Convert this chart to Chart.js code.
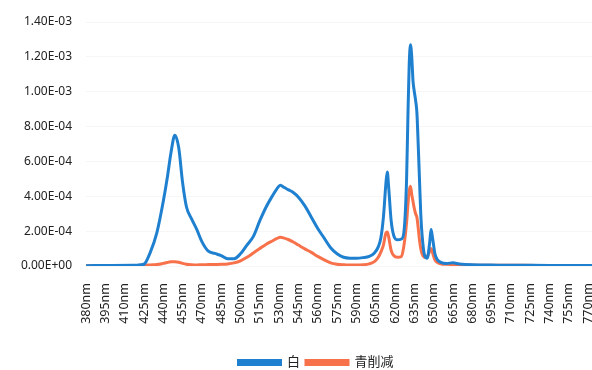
<!DOCTYPE html>
<html>
<head>
<meta charset="utf-8">
<script src="https://cdn.jsdelivr.net/npm/chart.js@4.4.0/dist/chart.umd.min.js"></script>
<style>
  html, body { margin: 0; padding: 0; background: #fff; }
  #wrap { width: 592px; height: 370px; }
</style>
</head>
<body>
<div id="wrap"><canvas id="spectrumChart"></canvas></div>
<script>
// wavelengths (nm)
const wavelengths = [380, 400, 420, 425, 430, 435, 440, 443, 446, 449, 452, 455, 458, 462, 466, 470, 475, 480, 485, 490,
  495, 500, 505, 510, 515, 520, 525, 528, 531, 534, 537, 541, 545, 550, 555, 560, 565, 570, 575, 580,
  585, 590, 595, 600, 604, 607, 609, 611, 613, 614, 615, 617, 619, 622, 625, 627, 629, 630, 631, 632,
  633, 634, 635, 636, 637, 638, 639, 640, 641, 643, 645, 647, 648, 649, 651, 653, 656, 660, 665, 670,
  680, 700, 720, 740, 760, 773];

// series "白"
const whiteValues = [2e-6, 3e-6, 5e-6, 1e-5, 8e-5, 1.9e-4, 3.7e-4, 5.0e-4, 6.5e-4, 7.5e-4, 6.8e-4, 4.8e-4, 3.4e-4, 2.7e-4, 2.1e-4, 1.4e-4, 8.5e-5, 7.2e-5, 6.0e-5, 4.2e-5,
  4.2e-5, 7.0e-5, 1.2e-4, 1.7e-4, 2.6e-4, 3.4e-4, 4.05e-4, 4.4e-4, 4.64e-4, 4.5e-4, 4.38e-4, 4.22e-4, 3.95e-4, 3.45e-4, 2.8e-4, 2.15e-4, 1.6e-4, 1.05e-4, 7.0e-5, 5.0e-5,
  4.5e-5, 4.5e-5, 4.8e-5, 5.5e-5, 7.5e-5, 1.1e-4, 1.6e-4, 2.8e-4, 4.8e-4, 5.4e-4, 4.6e-4, 2.6e-4, 1.75e-4, 1.5e-4, 1.55e-4, 2.0e-4, 5.0e-4, 8.5e-4, 1.15e-3, 1.27e-3,
  1.20e-3, 1.06e-3, 1.00e-3, 9.5e-4, 8.8e-4, 7.0e-4, 5.0e-4, 3.0e-4, 1.8e-4, 6.0e-5, 4.5e-5, 1.4e-4, 2.1e-4, 1.7e-4, 7.0e-5, 3.5e-5, 2.0e-5, 1.5e-5, 1.8e-5, 1.2e-5,
  7e-6, 5e-6, 4e-6, 3e-6, 3e-6, 3e-6];

// series "青削减"
const blueCutValues = [2e-6, 2e-6, 3e-6, 4e-6, 6e-6, 8e-6, 1.5e-5, 2.0e-5, 2.4e-5, 2.5e-5, 2.2e-5, 1.5e-5, 1.0e-5, 7e-6, 6e-6, 7e-6, 8e-6, 9e-6, 1.0e-5, 1.2e-5,
  1.8e-5, 3.0e-5, 5.0e-5, 7.5e-5, 1.0e-4, 1.25e-4, 1.45e-4, 1.57e-4, 1.65e-4, 1.6e-4, 1.52e-4, 1.38e-4, 1.2e-4, 9.8e-5, 7.8e-5, 5.5e-5, 3.5e-5, 1.8e-5, 1.0e-5, 7e-6,
  6e-6, 6e-6, 7e-6, 1.2e-5, 2.5e-5, 5.0e-5, 8.0e-5, 1.2e-4, 1.9e-4, 1.95e-4, 1.7e-4, 9.0e-5, 6.0e-5, 5.0e-5, 5.5e-5, 1.2e-4, 2.5e-4, 3.5e-4, 4.3e-4, 4.58e-4,
  4.1e-4, 3.7e-4, 3.3e-4, 3.0e-4, 2.8e-4, 2.2e-4, 1.5e-4, 1.0e-4, 7.0e-5, 5.0e-5, 5.5e-5, 8.5e-5, 1.0e-4, 8.0e-5, 3.5e-5, 2.0e-5, 1.2e-5, 1.0e-5, 8e-6, 6e-6,
  5e-6, 4e-6, 4e-6, 3e-6, 3e-6, 3e-6];

// x tick labels every 15 nm
const xTicks = [380, 395, 410, 425, 440, 455, 470, 485, 500, 515, 530, 545, 560, 575, 590, 605, 620, 635, 650, 665, 680, 695, 710, 725, 740, 755, 770];

const seriesNames = ['白', '青削减'];
const seriesColors = ['#1f80d0', '#f7714a'];

// Excel-style exponent label, e.g. 1.40E-03
function sci(v) {
    if (v === 0) return '0.00E+00';
    const exp = Math.floor(Math.log10(Math.abs(v)) + 1e-9);
    const man = v / Math.pow(10, exp);
    const sign = exp < 0 ? '-' : '+';
    return man.toFixed(2) + 'E' + sign + String(Math.abs(exp)).padStart(2, '0');
}

function toPoints(values) {
    return wavelengths.map((nm, i) => ({ x: nm, y: values[i] }));
}

// the legend sits a little right of centre in the reference
const shiftLegend = {
    id: 'shiftLegend',
    afterLayout(chart) {
        chart.legend.left += 20;
        chart.legend.right += 20;
    }
};

const bottomPad = -9;

const font = { family: '"Noto Sans", "Noto Sans CJK SC", sans-serif', size: 12 };

const ctx = document.getElementById('spectrumChart').getContext('2d');
const spectrumChart = new Chart(ctx, {
    type: 'line',
    data: {
        datasets: [
            { label: seriesNames[0], data: toPoints(whiteValues), borderColor: seriesColors[0], backgroundColor: seriesColors[0] },
            { label: seriesNames[1], data: toPoints(blueCutValues), borderColor: seriesColors[1], backgroundColor: seriesColors[1] }
        ]
    },
    plugins: [shiftLegend],
    options: {
        responsive: true,
        maintainAspectRatio: false,
        animation: false,
        layout: { padding: { top: 22, right: 0, left: 0, bottom: bottomPad } },
        elements: {
            line: { borderWidth: 3, tension: 0.3, cubicInterpolationMode: 'monotone' },
            point: { radius: 0 }
        },
        plugins: {
            legend: {
                position: 'bottom',
                labels: { font: { ...font, size: 13 }, color: '#222', boxWidth: 42, boxHeight: 4, padding: 6 }
            },
            tooltip: { enabled: false }
        },
        scales: {
            x: {
                type: 'linear',
                min: 380,
                max: 773,
                border: { display: false },
                grid: { display: false },
                afterBuildTicks: (scale) => { scale.ticks = xTicks.map(v => ({ value: v })); },
                afterFit: (scale) => {
                    // keep the zero line where the reference has it (y = 266)
                    const legend = scale.chart.legend;
                    if (legend && legend.height) {
                        scale.height = scale.chart.height - bottomPad - legend.height - 266;
                    }
                    scale.paddingLeft = 0;
                    scale.paddingRight = 0;
                },
                ticks: {
                    autoSkip: false, minRotation: 90, maxRotation: 90, padding: 9,
                    font: { ...font, size: 12.5 }, color: '#222',
                    callback: (v) => v + 'nm'
                }
            },
            y: {
                min: 0,
                max: 0.0014,
                border: { display: false },
                grid: { color: 'rgba(0,0,0,0.035)', drawTicks: false },
                afterFit: (scale) => { scale.width = 86; },
                ticks: {
                    stepSize: 0.0002, padding: 14,
                    font: font, color: '#222',
                    callback: (v) => sci(v)
                }
            }
        }
    }
});
</script>
</body>
</html>
